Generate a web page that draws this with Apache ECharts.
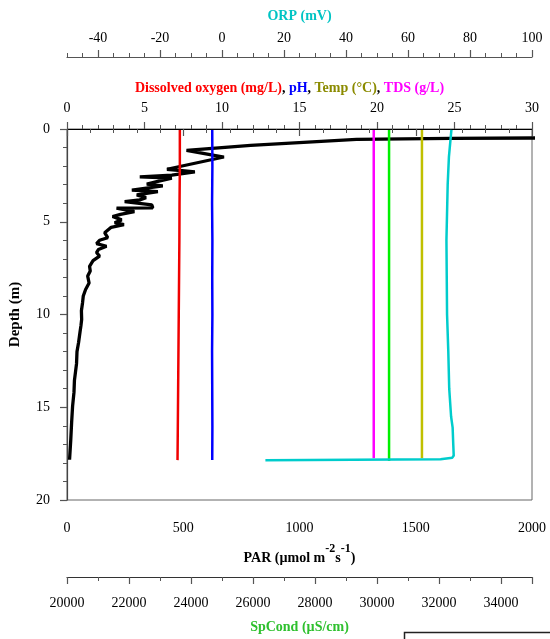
<!DOCTYPE html>
<html><head><meta charset="utf-8">
<script src="https://cdn.jsdelivr.net/npm/echarts@6/dist/echarts.min.js"></script>
<style>html,body{margin:0;padding:0;background:#fff}#c{width:550px;height:639px}</style>
</head><body><div id="c"></div>
<script>
// ---- data (depth in m) ----
const parDepth  = [0.46, 0.50, 0.56, 0.88, 1.15, 1.51, 2.17, 2.31, 2.49, 2.58, 2.65, 2.84, 2.97, 3.07, 3.29, 3.38, 3.55, 3.70, 3.82, 3.92, 4.09, 4.25, 4.27, 4.45, 4.60, 4.72, 4.90, 5.05, 5.16, 5.30, 5.59, 5.86, 6.00, 6.18, 6.32, 6.50, 6.66, 6.85, 7.10, 7.40, 7.65, 7.93, 8.30, 8.65, 9.00, 9.35, 9.80, 10.27, 10.60, 10.94, 11.50, 12.00, 12.65, 13.55, 14.20, 14.95, 15.80, 16.80, 17.83];
const parValues = [2600, 1650, 1245, 790, 514, 675, 430, 550, 451, 313, 451, 386, 343, 412, 279, 391, 300, 340, 313, 248, 365, 369, 213, 290, 230, 196, 235, 205, 245, 190, 162, 175, 140, 127, 170, 135, 127, 140, 112, 97, 100, 89, 95, 80, 70, 67, 62, 63, 60, 56, 50, 43, 41, 32, 30, 24, 20, 16, 11];

const profDepth = [0.05, 2, 4, 6, 8, 10, 12, 14, 16, 17.85];
const doValues   = [7.28, 7.28, 7.26, 7.25, 7.23, 7.21, 7.19, 7.17, 7.15, 7.13];
const phValues   = [9.37, 9.38, 9.36, 9.38, 9.37, 9.38, 9.36, 9.37, 9.38, 9.37];
const tdsValues  = [19.79, 19.79, 19.79, 19.79, 19.79, 19.79, 19.79, 19.79, 19.79, 19.79];
const tempValues = [22.9, 22.9, 22.9, 22.9, 22.9, 22.9, 22.9, 22.9, 22.9, 22.9];
const spcValues  = [30389, 30389, 30389, 30389, 30389, 30389, 30389, 30389, 30389, 30389];

const orpDepth  = [0.05, 1.5, 3, 6, 8, 10, 12, 14, 14.5, 15.5, 16.1, 17.0, 17.6, 17.72, 17.8, 17.86];
const orpValues = [74.0, 73.2, 72.8, 72.4, 72.5, 72.6, 73.0, 73.3, 73.5, 73.9, 74.4, 74.6, 74.75, 74.3, 70.5, 14.0];

const orpTickLabels = [-40, -20, 0, 20, 40, 60, 80, 100];

function pairs(vals, depths) { return vals.map((v, i) => [v, depths[i]]); }

const FONT = "'Liberation Serif', 'Times New Roman', serif";
const lbl = (margin) => ({ fontFamily: FONT, fontSize: 14, color: '#000', margin: margin, formatter: (v) => String(v) });
const axLine = (c) => ({ show: true, lineStyle: { color: c, width: 1.2 } });
const tick = (c) => ({ show: true, length: 7, lineStyle: { color: c, width: 1.2 } });
const mtick = (n, c) => ({ show: true, splitNumber: n, length: 4, lineStyle: { color: c, width: 1 } });

const chart = echarts.init(document.getElementById('c'), null, { renderer: 'canvas' });
chart.setOption({
  animation: false,
  backgroundColor: '#fff',
  grid: { left: 67, right: 18, top: 129, bottom: 132, show: true, borderColor: '#666', borderWidth: 1, backgroundColor: 'transparent' },
  xAxis: [
    { // PAR
      type: 'value', position: 'bottom', min: 0, max: 2000, interval: 500,
      axisLine: axLine('#555'), axisTick: tick('#555'), minorTick: mtick(5, '#555'),
      splitLine: { show: false }, axisLabel: lbl(21),
      name: '{b|PAR (µmol m}{s|-2}{b|s}{s|-1}{b|)}', nameLocation: 'middle', nameGap: 43,
      nameTextStyle: { fontFamily: FONT, fontWeight: 'bold', color: '#000',
        rich: { b: { fontFamily: FONT, fontWeight: 'bold', fontSize: 14, lineHeight: 22, verticalAlign: 'bottom' },
                s: { fontFamily: FONT, fontWeight: 'bold', fontSize: 12, lineHeight: 12, verticalAlign: 'top' } } }
    },
    { // SpCond
      type: 'value', position: 'bottom', offset: 77, min: 20000, max: 35000, interval: 2000,
      axisLine: axLine('#333'), axisTick: tick('#555'), minorTick: mtick(2, '#555'),
      splitLine: { show: false }, axisLabel: Object.assign(lbl(19), { showMaxLabel: false }),
      name: 'SpCond (µS/cm)', nameLocation: 'middle', nameGap: 43,
      nameTextStyle: { fontFamily: FONT, fontWeight: 'bold', fontSize: 14, color: '#2ec02e' }
    },
    { // DO, pH, Temp, TDS
      type: 'value', position: 'top', min: 0, max: 30, interval: 5,
      axisLine: axLine('#000'), axisTick: tick('#555'), minorTick: mtick(5, '#555'),
      splitLine: { show: false }, axisLabel: lbl(14),
      name: '{r|Dissolved oxygen (mg/L)}{k|, }{bl|pH}{k|, }{o|Temp (°C)}{k|, }{m|TDS (g/L)}',
      nameLocation: 'middle', nameGap: 34,
      nameTextStyle: { fontFamily: FONT, fontWeight: 'bold', fontSize: 14, padding: [0, 20, 0, 0],
        rich: { r: { color: '#ff0000', fontFamily: FONT, fontWeight: 'bold', fontSize: 14 },
                k: { color: '#000', fontFamily: FONT, fontWeight: 'bold', fontSize: 14 },
                bl: { color: '#0000ff', fontFamily: FONT, fontWeight: 'bold', fontSize: 14 },
                o: { color: '#8b8b00', fontFamily: FONT, fontWeight: 'bold', fontSize: 14 },
                m: { color: '#ff00ff', fontFamily: FONT, fontWeight: 'bold', fontSize: 14 } } }
    },
    { // ORP (labels + major ticks)
      type: 'value', position: 'top', offset: 72, min: -50, max: 100, interval: 10,
      axisLine: axLine('#555'), axisTick: Object.assign(tick('#555'), { customValues: orpTickLabels }),
      minorTick: { show: false }, splitLine: { show: false },
      axisLabel: Object.assign(lbl(12), { customValues: orpTickLabels }),
      name: 'ORP (mV)', nameLocation: 'middle', nameGap: 34,
      nameTextStyle: { fontFamily: FONT, fontWeight: 'bold', fontSize: 14, color: '#00c4c4' }
    },
    { // ORP minor ticks overlay
      type: 'value', position: 'top', offset: 72, min: -50, max: 100, interval: 5,
      axisLine: { show: false }, axisTick: { show: true, length: 4, lineStyle: { color: '#555', width: 1 } },
      minorTick: { show: false }, splitLine: { show: false }, axisLabel: { show: false }
    }
  ],
  yAxis: [{
    type: 'value', inverse: true, min: 0, max: 20, interval: 5,
    axisLine: axLine('#444'), axisTick: tick('#555'), minorTick: mtick(5, '#555'),
    splitLine: { show: false }, axisLabel: lbl(17),
    name: 'Depth (m)', nameLocation: 'middle', nameGap: 44,
    nameTextStyle: { fontFamily: FONT, fontWeight: 'bold', fontSize: 15, color: '#000' }
  }],
  series: [
    { name: 'PAR', type: 'line', xAxisIndex: 0, data: pairs(parValues, parDepth), symbol: 'none',
      lineStyle: { color: '#000', width: 3.3 }, z: 1 },
    { name: 'SpCond', type: 'line', xAxisIndex: 1, data: pairs(spcValues, profDepth.slice(0, -1).concat([17.9])), symbol: 'none',
      lineStyle: { color: '#00f000', width: 2.5 }, z: 2 },
    { name: 'DO', type: 'line', xAxisIndex: 2, data: pairs(doValues, profDepth), symbol: 'none',
      lineStyle: { color: '#f00000', width: 2.5 }, z: 2 },
    { name: 'pH', type: 'line', xAxisIndex: 2, data: pairs(phValues, profDepth), symbol: 'none',
      lineStyle: { color: '#0000ff', width: 2.5 }, z: 2 },
    { name: 'Temp', type: 'line', xAxisIndex: 2, data: pairs(tempValues, profDepth.slice(0, -1).concat([17.75])), symbol: 'none',
      lineStyle: { color: '#c0c000', width: 2.5 }, z: 2 },
    { name: 'TDS', type: 'line', xAxisIndex: 2, data: pairs(tdsValues, profDepth.slice(0, -1).concat([17.75])), symbol: 'none',
      lineStyle: { color: '#ff00ff', width: 2.5 }, z: 2 },
    { name: 'ORP', type: 'line', xAxisIndex: 3, data: pairs(orpValues, orpDepth), symbol: 'none',
      lineStyle: { color: '#00cccc', width: 2.5 }, z: 3 }
  ],
  graphic: [{
    type: 'rect', left: 402, top: 630, silent: true,
    shape: { width: 200, height: 30 },
    style: { fill: 'none', stroke: '#222', lineWidth: 1.5 }
  }]
});
</script></body></html>
